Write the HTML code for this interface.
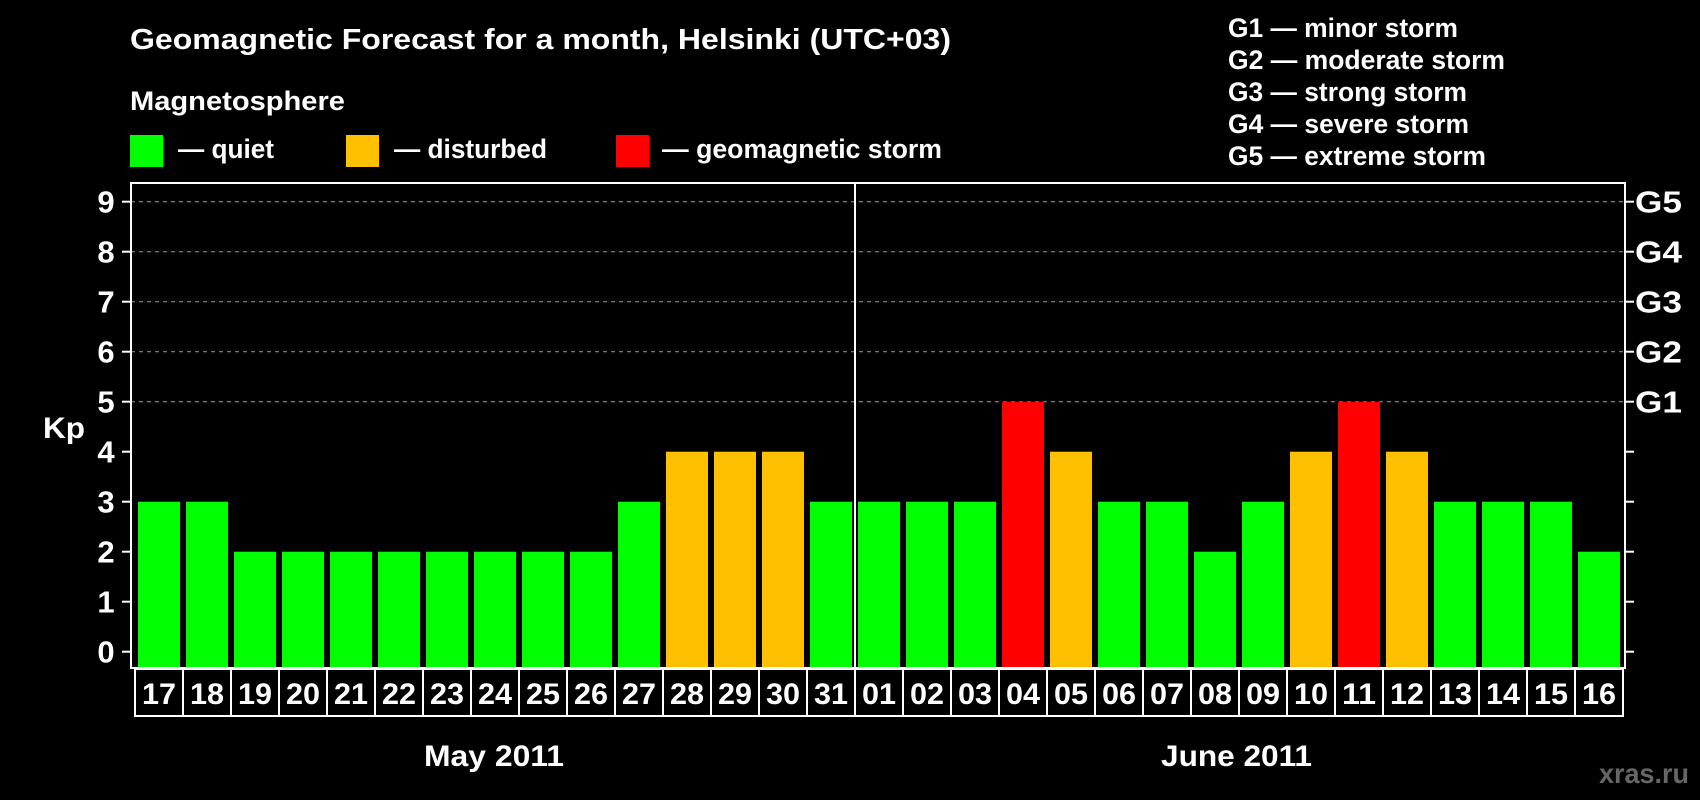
<!DOCTYPE html>
<html><head><meta charset="utf-8"><style>
html,body{margin:0;padding:0;background:#000;}
svg{display:block;font-family:"Liberation Sans",Arial,sans-serif;font-weight:bold;}
</style></head><body>
<svg id="chart" width="1700" height="800" viewBox="0 0 1700 800">
<rect width="1700" height="800" fill="#000"/>
<text x="130" y="49" fill="#fff" font-size="29" textLength="821" lengthAdjust="spacingAndGlyphs">Geomagnetic Forecast for a month, Helsinki (UTC+03)</text>
<text x="130" y="110" fill="#fff" font-size="27" textLength="215" lengthAdjust="spacingAndGlyphs">Magnetosphere</text>
<g><rect x="130" y="135" width="33" height="32" fill="#00ff00"/><text x="178" y="158" fill="#fff" font-size="27" textLength="96" lengthAdjust="spacingAndGlyphs">— quiet</text></g>
<g><rect x="346" y="135" width="33" height="32" fill="#ffc000"/><text x="394" y="158" fill="#fff" font-size="27" textLength="153" lengthAdjust="spacingAndGlyphs">— disturbed</text></g>
<g><rect x="616" y="135" width="33" height="32" fill="#ff0000"/><text x="662" y="158" fill="#fff" font-size="27" textLength="280" lengthAdjust="spacingAndGlyphs">— geomagnetic storm</text></g>
<g fill="#fff" font-size="27">
<text x="1228" y="37" textLength="230" lengthAdjust="spacingAndGlyphs">G1 — minor storm</text>
<text x="1228" y="69" textLength="277" lengthAdjust="spacingAndGlyphs">G2 — moderate storm</text>
<text x="1228" y="101" textLength="239" lengthAdjust="spacingAndGlyphs">G3 — strong storm</text>
<text x="1228" y="133" textLength="241" lengthAdjust="spacingAndGlyphs">G4 — severe storm</text>
<text x="1228" y="165" textLength="258" lengthAdjust="spacingAndGlyphs">G5 — extreme storm</text>
</g>
<text x="43" y="438" fill="#fff" font-size="30" textLength="42" lengthAdjust="spacingAndGlyphs">Kp</text>
<g id="grid"></g><g id="bars"></g><g id="axes"></g><g id="dates"></g>
<text x="424" y="766" fill="#fff" font-size="30" textLength="140" lengthAdjust="spacingAndGlyphs">May 2011</text>
<text x="1161" y="766" fill="#fff" font-size="30" textLength="151" lengthAdjust="spacingAndGlyphs">June 2011</text>
<text x="1599" y="783" fill="#666" font-size="28" textLength="90" lengthAdjust="spacingAndGlyphs">xras.ru</text>
</svg>
<script>
const days = ["17","18","19","20","21","22","23","24","25","26","27","28","29","30","31","01","02","03","04","05","06","07","08","09","10","11","12","13","14","15","16"];
const kpValues = [3,3,2,2,2,2,2,2,2,2,3,4,4,4,3,3,3,3,5,4,3,3,2,3,4,5,4,3,3,3,2];
const yTicks = [0,1,2,3,4,5,6,7,8,9];
const gLabels = ["G1","G2","G3","G4","G5"];
const NS="http://www.w3.org/2000/svg";
const L=131,R=1625,T=183,B=668,X0=135,STEP=48,BW=42;
const y=v=>651.7-v*50;
const x=i=>X0+i*STEP;
function mk(tag,attrs,parent){const e=document.createElementNS(NS,tag);for(const k in attrs)e.setAttribute(k,attrs[k]);parent.appendChild(e);return e;}
const grid=document.getElementById('grid'),bars=document.getElementById('bars'),axes=document.getElementById('axes'),dates=document.getElementById('dates');
yTicks.forEach(v=>{
  if(v>=5){const g=mk('line',{x1:L,x2:R,y1:y(v),y2:y(v),stroke:'#999','stroke-dasharray':'4 4','stroke-width':1},grid);
  
  }
  mk('line',{x1:L-9,x2:L,y1:y(v),y2:y(v),stroke:'#fff','stroke-width':2},axes);
  mk('line',{x1:R,x2:R+9,y1:y(v),y2:y(v),stroke:'#fff','stroke-width':2},axes);
  const t=mk('text',{x:106,y:y(v)+11,fill:'#fff','font-size':31,'text-anchor':'middle'},axes);
  t.textContent=v;
  
  
});
gLabels.forEach((g,i)=>{
  const t=mk('text',{x:1635,y:y(i+5)+11,fill:'#fff','font-size':31,textLength:47,lengthAdjust:'spacingAndGlyphs'},axes);
  t.textContent=g;
  
  
});
kpValues.forEach((v,i)=>{
  const c=v>=5?'#ff0000':(v>=4?'#ffc000':'#00ff00');
  const r=mk('rect',{x:x(i)+3,y:y(v),width:BW,height:y(0)-y(v)+16,fill:c},bars);
  
  
});
mk('rect',{x:L,y:T,width:R-L,height:B-T,fill:'none',stroke:'#fff','stroke-width':2},axes);
mk('line',{x1:x(15),x2:x(15),y1:T,y2:B,stroke:'#fff','stroke-width':2},axes);
mk('rect',{x:X0,y:669,width:days.length*STEP,height:47,fill:'none',stroke:'#fff','stroke-width':2},dates);
days.forEach((d,i)=>{
  if(i>0)mk('line',{x1:x(i),x2:x(i),y1:669,y2:716,stroke:'#fff','stroke-width':2},dates);
  const t=mk('text',{x:x(i)+24,y:704,fill:'#fff','font-size':30,'text-anchor':'middle',textLength:34,lengthAdjust:'spacingAndGlyphs'},dates);
  t.textContent=d;
  
  
});
</script>
</body></html>
